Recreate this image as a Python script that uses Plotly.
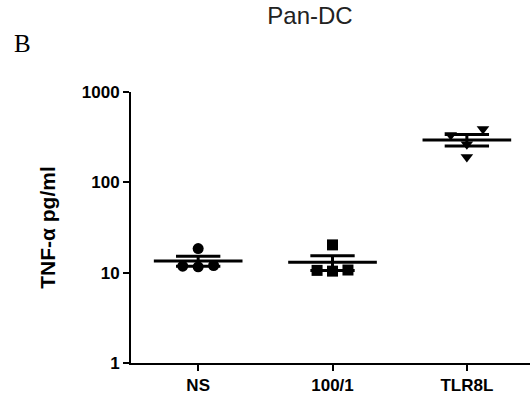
import numpy as np
import plotly.graph_objects as go

# ---- data ----
categories = ["NS", "100/1", "TLR8L"]
ns_values = [11.8, 18.5, 11.6, 12.0]
d100_values = [10.6, 20.3, 10.4, 10.7]
tlr8l_values = [335, 264, 191, 390]
y_ticks = [1, 10, 100, 1000]

groups = [ns_values, d100_values, tlr8l_values]
symbols = ["circle", "square", "triangle-down"]
# horizontal spread of replicate points (in category units), layout only
spread = [[-0.115, 0.0, 0.0, 0.115],
          [-0.115, 0.0, 0.0, 0.115],
          [-0.12, 0.0, 0.0, 0.12]]

MEAN_HALF = 0.33
CAP_HALF = 0.165
BLACK = "#000000"
FONT = "Liberation Sans, Arial, sans-serif"

fig = go.Figure()
for i, (vals, sym, sp) in enumerate(zip(groups, symbols, spread)):
    v = np.array(vals, dtype=float)
    fig.add_trace(go.Scatter(
        x=[i + s for s in sp], y=v, mode="markers",
        marker=dict(symbol=sym, size=11, color=BLACK, line=dict(width=0)),
        showlegend=False, hoverinfo="y"))
    m = v.mean()
    sem = v.std(ddof=1) / np.sqrt(len(v))
    # mean line
    fig.add_trace(go.Scatter(x=[i - MEAN_HALF, i + MEAN_HALF], y=[m, m], mode="lines",
                             line=dict(color=BLACK, width=3), showlegend=False, hoverinfo="skip"))
    # SEM error bar
    fig.add_trace(go.Scatter(
        x=[i - CAP_HALF, i + CAP_HALF, None, i, i, None, i - CAP_HALF, i + CAP_HALF],
        y=[m + sem, m + sem, None, m + sem, m - sem, None, m - sem, m - sem],
        mode="lines", line=dict(color=BLACK, width=3), showlegend=False, hoverinfo="skip"))

fig.update_layout(
    width=530, height=402,
    margin=dict(l=131, r=0, t=92, b=39),
    paper_bgcolor="white", plot_bgcolor="white",
    font=dict(family=FONT, color=BLACK),
    title=dict(text="Pan-DC", x=310 / 530, xanchor="center", xref="container",
               y=1 - 16 / 402, yanchor="middle", yref="container",
               font=dict(size=24, family=FONT, color="#222222")),
    xaxis=dict(range=[-0.5, 2.47], tickvals=list(range(len(categories))), ticktext=categories,
               showgrid=False, zeroline=False, showline=True, linecolor=BLACK, linewidth=2,
               ticks="outside", ticklen=6, tickwidth=2, tickcolor=BLACK,
               tickfont=dict(size=17, family=FONT, weight="bold", color=BLACK)),
    yaxis=dict(type="log", range=[0, 3], tickvals=y_ticks, ticktext=[str(t) for t in y_ticks],
               showgrid=False, zeroline=False, showline=True, linecolor=BLACK, linewidth=2,
               ticks="outside", ticklen=6, tickwidth=2, tickcolor=BLACK,
               tickfont=dict(size=17, family=FONT, weight="bold", color=BLACK),
               title=dict(text="TNF-α pg/ml", standoff=20,
                          font=dict(size=21, family=FONT, weight="bold", color=BLACK))),
    annotations=[dict(text="B", xref="paper", yref="paper", x=(22 - 131) / 399, y=(363 - 44) / 271,
                      xanchor="center", yanchor="middle", showarrow=False,
                      font=dict(size=25, family="Liberation Serif, Times New Roman, serif", color=BLACK))],
)

fig.write_html("out.html")
